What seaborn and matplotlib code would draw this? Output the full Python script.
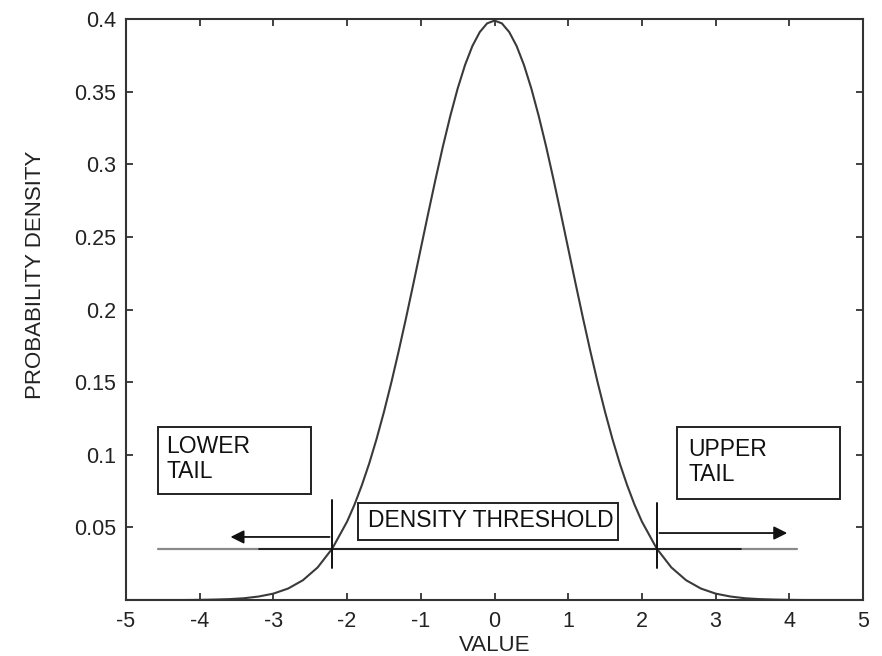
"""
Density threshold sketch: standard normal pdf with the two tails cut off
by a horizontal density threshold.
"""

import numpy as np
import pandas as pd
import matplotlib
matplotlib.use("Agg")
import matplotlib.pyplot as plt
from matplotlib.patches import Rectangle
import seaborn as sns

# curve values (finer steps around the peak)
value = [-5.0, -4.8, -4.6, -4.4, -4.2, -4.0, -3.8, -3.6, -3.4, -3.2,
         -3.0, -2.8, -2.6, -2.4, -2.2, -2.0, -1.9, -1.8, -1.7, -1.6,
         -1.5, -1.4, -1.3, -1.2, -1.1, -1.0, -0.9, -0.8, -0.7, -0.6,
         -0.5, -0.4, -0.3, -0.2, -0.1, 0.0, 0.1, 0.2, 0.3, 0.4,
         0.5, 0.6, 0.7, 0.8, 0.9, 1.0, 1.1, 1.2, 1.3, 1.4,
         1.5, 1.6, 1.7, 1.8, 1.9, 2.0, 2.2, 2.4, 2.6, 2.8,
         3.0, 3.2, 3.4, 3.6, 3.8, 4.0, 4.2, 4.4, 4.6, 4.8, 5.0]
density = [0.0000, 0.0000, 0.0000, 0.0000, 0.0000, 0.0001, 0.0003, 0.0006, 0.0012, 0.0024,
           0.0044, 0.0079, 0.0136, 0.0224, 0.0355, 0.0540, 0.0656, 0.0790, 0.0940, 0.1109,
           0.1295, 0.1497, 0.1714, 0.1942, 0.2179, 0.2420, 0.2661, 0.2897, 0.3123, 0.3332,
           0.3521, 0.3683, 0.3814, 0.3910, 0.3970, 0.3989, 0.3970, 0.3910, 0.3814, 0.3683,
           0.3521, 0.3332, 0.3123, 0.2897, 0.2661, 0.2420, 0.2179, 0.1942, 0.1714, 0.1497,
           0.1295, 0.1109, 0.0940, 0.0790, 0.0656, 0.0540, 0.0355, 0.0224, 0.0136, 0.0079,
           0.0044, 0.0024, 0.0012, 0.0006, 0.0003, 0.0001, 0.0000, 0.0000, 0.0000, 0.0000, 0.0000]

threshold = 0.035
lower_cut = -2.2
upper_cut = 2.2

x_ticks = [-5, -4, -3, -2, -1, 0, 1, 2, 3, 4, 5]
y_ticks = [0.05, 0.1, 0.15, 0.2, 0.25, 0.3, 0.35, 0.4]
y_tick_labels = ["0.05", "0.1", "0.15", "0.2", "0.25", "0.3", "0.35", "0.4"]

df = pd.DataFrame({"value": value, "density": density})

sns.set_style("ticks")
plt.rcParams["font.family"] = ["Liberation Sans", "DejaVu Sans"]

ink = "#333333"
fig = plt.figure(figsize=(8.82, 6.56), dpi=100)
ax = fig.add_axes([126 / 882, 56 / 656, 737 / 882, 581 / 656])

# the density curve
sns.lineplot(data=df, x="value", y="density", ax=ax, color="#3a3a3a", lw=1.5)

# threshold line: grey at the ends, dark in the middle
ax.plot([-4.57, 4.10], [threshold, threshold], color="#8a8a8a", lw=1.6)
ax.plot([-3.2, 3.35], [threshold, threshold], color="#222222", lw=1.4)

# cut markers where the curve meets the threshold
ax.plot([lower_cut, lower_cut], [0.022, 0.069], color="#111111", lw=1.4)
ax.plot([upper_cut, upper_cut], [0.022, 0.067], color="#111111", lw=1.4)

# arrows pointing into the tails
arrow = dict(arrowstyle="-|>", color="#111111", lw=1.3, mutation_scale=20)
ax.annotate("", xy=(-3.62, 0.0434), xytext=(lower_cut, 0.0434), arrowprops=arrow)
ax.annotate("", xy=(4.01, 0.0461), xytext=(upper_cut, 0.0461), arrowprops=arrow)

# labelled boxes
boxes = [
    (-4.57, 0.073, 2.08, 0.046, "LOWER\nTAIL", -4.45, 0.097),
    (2.48, 0.0696, 2.21, 0.0494, "UPPER\nTAIL", 2.63, 0.095),
    (-1.85, 0.0413, 3.53, 0.0255, "DENSITY THRESHOLD", -1.72, 0.0545),
]
for bx, by, bw, bh, label, tx, ty in boxes:
    ax.add_patch(Rectangle((bx, by), bw, bh, fill=False, edgecolor="#222222", lw=1.4))
    ax.text(tx, ty, label, ha="left", va="center", fontsize=16.5,
            color="#111111", linespacing=1.15)

ax.set_xlim(-5, 5)
ax.set_ylim(0, 0.4)
ax.set_xticks(x_ticks)
ax.set_xticklabels([str(t) for t in x_ticks])
ax.set_yticks(y_ticks)
ax.set_yticklabels(y_tick_labels)
ax.tick_params(direction="in", length=5, width=1.3, color=ink,
               top=True, right=True, labelsize=15.5, labelcolor="#222222")
ax.tick_params(axis="y", pad=7)
ax.tick_params(axis="x", pad=8)

for side in ax.spines.values():
    side.set_color(ink)
    side.set_linewidth(1.5)

ax.set_xlabel("VALUE", fontsize=16, color="#222222", labelpad=2)
ax.set_ylabel("PROBABILITY DENSITY", fontsize=16, color="#222222")
ax.yaxis.set_label_coords(-0.108, 0.56)

fig.savefig("out.png", dpi=100)
